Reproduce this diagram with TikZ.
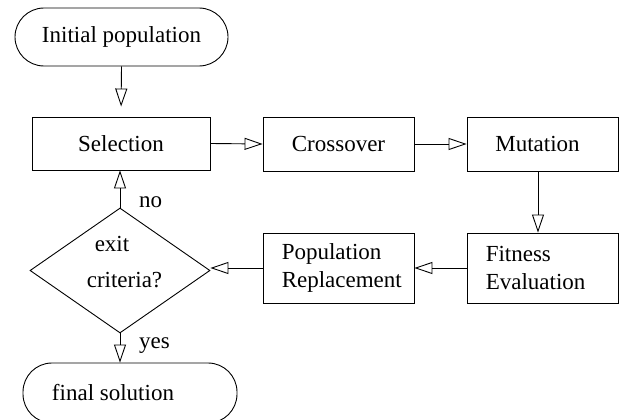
\documentclass[tikz,border=0pt]{standalone}
\usepackage{fontspec}
\setmainfont{Liberation Serif}
\usetikzlibrary{arrows.meta,shapes.geometric}
\begin{document}
\begin{tikzpicture}[x=1pt,y=-1pt,
  every node/.style={font=\fontsize{23}{28}\selectfont},
  box/.style={draw,line width=0.9pt,rectangle,minimum width=151pt,inner sep=0pt},
  term/.style={draw,line width=0.9pt,rectangle,rounded corners=29pt,inner sep=0pt},
  txt/.style={inner sep=0pt},
  flow/.style={draw,line width=0.9pt,-{Triangle[open,length=18pt,width=12pt]}}
]
\clip (0,0) rectangle (622,420);
\fill[white] (0,0) rectangle (622,420);
% nodes
\node[term,minimum width=213pt,minimum height=58pt] (init) at (121.5,37) {Initial population};
\node[box,minimum width=178pt,minimum height=53pt] (sel) at (121,143.5) {Selection};
\node[box,minimum height=54pt] (cross) at (338.5,144) {Crossover};
\node[box,minimum height=54pt] (mut) at (542.5,144) {};
\node[txt] (muttxt) at (537.5,144) {Mutation};
\node[box,minimum height=70pt] (fit) at (542.5,268) {};
\node[txt,anchor=west,align=left] (fittxt) at ([xshift=19pt]fit.west) {Fitness\\Evaluation};
\node[box,minimum height=70pt] (pop) at (338.5,268) {};
\node[txt,anchor=west,align=left] (poptxt) at ([xshift=19pt]pop.west) {Population\\Replacement};
\node[draw,line width=0.9pt,diamond,minimum width=180pt,minimum height=125pt,inner sep=0pt,aspect=1.44] (dia) at (120,270.5) {};
\node[txt,anchor=base] (exit) at (112,251) {exit};
\node[txt,anchor=base] (crit) at (124.5,287) {criteria?};
\node[term,minimum width=214pt,minimum height=60pt] (fin) at (130,393) {};
\node[txt] (fintxt) at (113,393) {final solution};
\node[txt,anchor=base west] (no) at (139,207) {no};
\node[txt,anchor=base west] (yes) at (139,348) {yes};
% connectors
\draw[flow,shorten >=10pt] (init.south) -- (sel.north);
\draw[flow] (sel.east) -- (cross.west);
\draw[flow] (cross.east) -- (mut.west);
\draw[flow] ([xshift=-4.5pt]mut.south) -- ([xshift=-4.5pt]fit.north);
\draw[flow] (fit.west) -- (pop.west -| pop.east);
\draw[flow] (pop.west) -- (pop.west -| dia.east);
\draw[flow] (dia.north) -- (dia.north |- sel.south);
\draw[flow] (dia.south) -- (dia.south |- fin.north);
\end{tikzpicture}
\end{document}
